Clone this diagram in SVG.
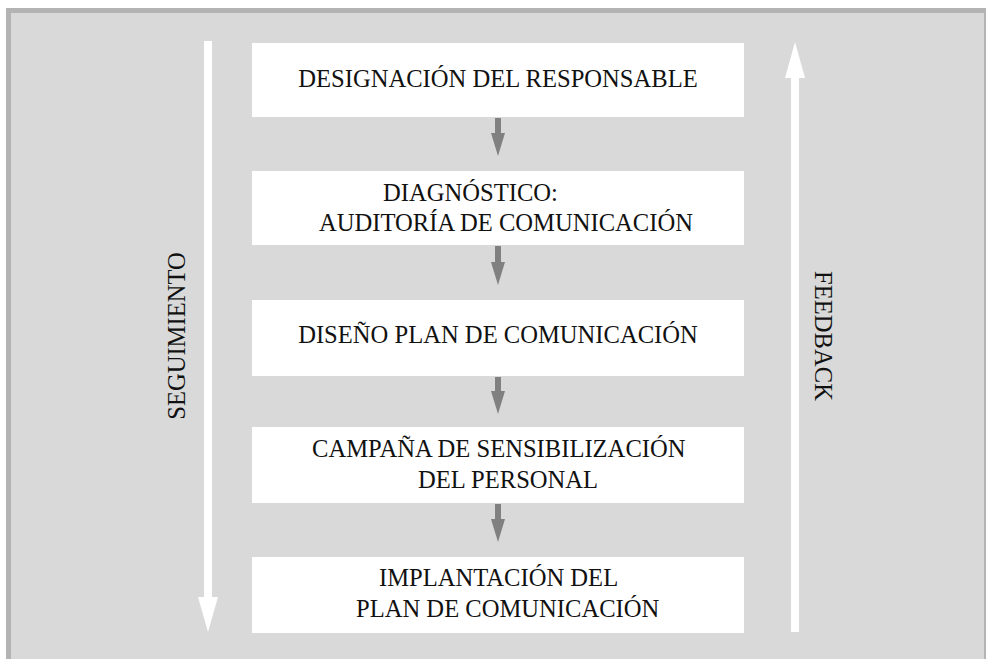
<svg xmlns="http://www.w3.org/2000/svg" width="986" height="659" viewBox="0 0 986 659">
<style>
.box{fill:#ffffff}
.t{font-family:"Liberation Serif","Times New Roman",serif;font-size:24.6px;fill:#111111}
.c{text-anchor:middle}
.big{fill:#ffffff}
.conn{fill:#808080}
</style>
<rect x="0" y="0" width="986" height="659" fill="#ffffff"/>
<rect x="8.5" y="10.5" width="978" height="720" fill="#d9d9d9" stroke="#b3b3b3" stroke-width="5"/>

<g id="seguimiento">
<rect class="big" x="204" y="41" width="8" height="558"/>
<polygon class="big" points="198,597 218,597 208,632"/>
<text class="t c" transform="translate(185,336) rotate(-90)">SEGUIMIENTO</text>
</g>

<g id="feedback">
<rect class="big" x="791" y="77" width="8" height="555"/>
<polygon class="big" points="785,78 805,78 795,42"/>
<text class="t c" transform="translate(815,336) rotate(90)">FEEDBACK</text>
</g>

<g id="n1">
<rect class="box" x="252" y="43" width="492" height="74"/>
<text class="t c" x="498" y="87">DESIGNACIÓN DEL RESPONSABLE</text>
</g>
<g id="n2">
<rect class="box" x="252" y="171" width="492" height="74"/>
<text class="t" x="383" y="201">DIAGNÓSTICO:</text>
<text class="t" x="319" y="231">AUDITORÍA DE COMUNICACIÓN</text>
</g>
<g id="n3">
<rect class="box" x="252" y="300" width="492" height="76"/>
<text class="t c" x="498" y="343">DISEÑO PLAN DE COMUNICACIÓN</text>
</g>
<g id="n4">
<rect class="box" x="252" y="427" width="492" height="76"/>
<text class="t" x="312" y="457">CAMPAÑA DE SENSIBILIZACIÓN</text>
<text class="t" x="418" y="488">DEL PERSONAL</text>
</g>
<g id="n5">
<rect class="box" x="252" y="557" width="492" height="76"/>
<text class="t" x="379" y="586">IMPLANTACIÓN DEL</text>
<text class="t" x="356" y="617">PLAN DE COMUNICACIÓN</text>
</g>

<g id="connectors">
<g class="conn">
<rect x="495" y="118" width="6" height="16"/><polygon points="491,133 505,133 498,156"/>
<rect x="495" y="246" width="6" height="17"/><polygon points="491,262 505,262 498,285"/>
<rect x="495" y="377" width="6" height="15"/><polygon points="491,391 505,391 498,414"/>
<rect x="495" y="504" width="6" height="16"/><polygon points="491,519 505,519 498,542"/>
</g>
</g>
</svg>
